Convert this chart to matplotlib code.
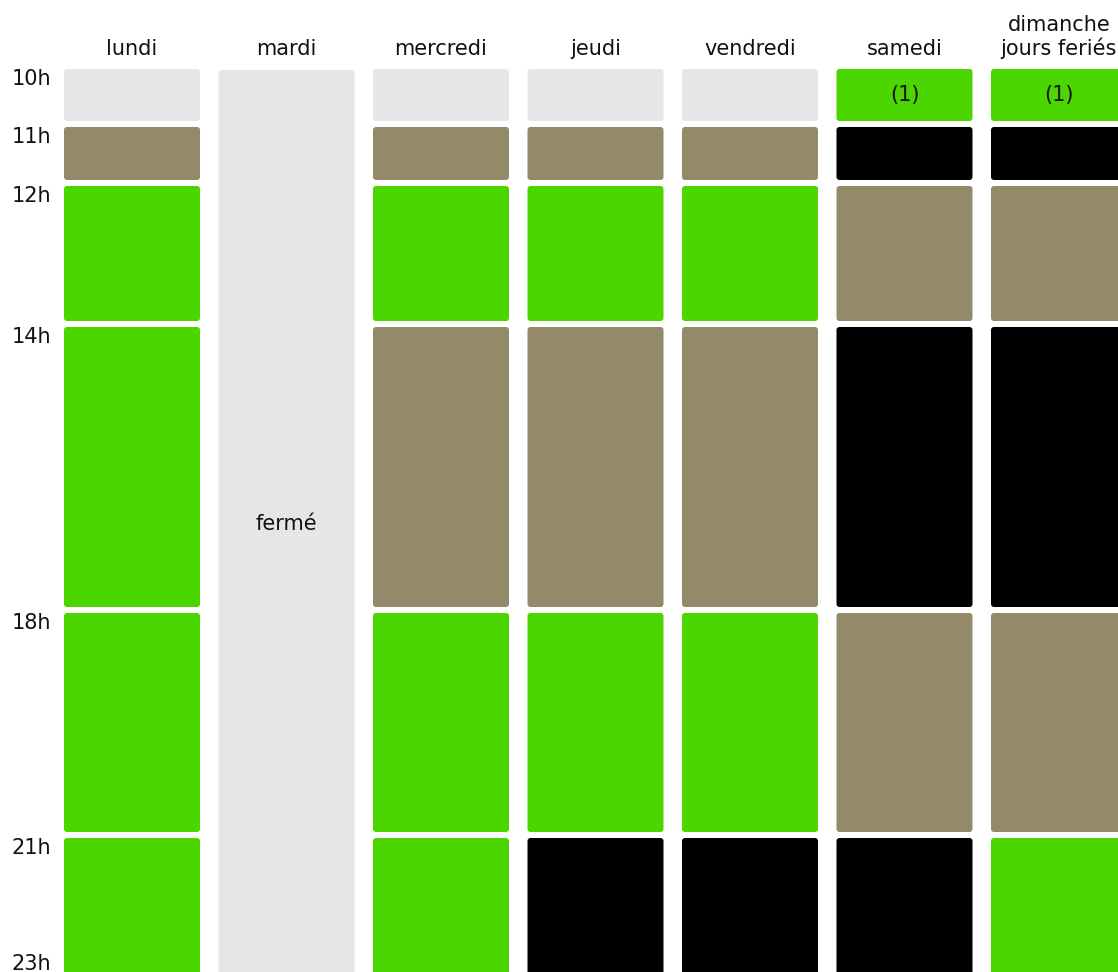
import matplotlib.pyplot as plt
from matplotlib.patches import FancyBboxPatch

days = ["lundi", "mardi", "mercredi", "jeudi", "vendredi", "samedi", "dimanche\njours feriés"]
hours = ["10h", "11h", "12h", "14h", "18h", "21h", "23h"]

# one letter per slot (10-11, 11-12, 12-14, 14-18, 18-21, 21-23)
# e = empty, b = brown, g = green, n = black ; "" = closed all day
lundi    = "ebgggg"
mardi    = ""
mercredi = "ebgbgg"
jeudi    = "ebgbgn"
vendredi = "ebgbgn"
samedi   = "gnbnbn"
dimanche = "gnbnbg"
schedule = [lundi, mardi, mercredi, jeudi, vendredi, samedi, dimanche]

notes = ["", "", "", "", "", "(1)", "(1)"]   # text in first slot
closed_text = "fermé"

colors = {"e": "#e6e6e6", "b": "#948a6a", "g": "#4cd600", "n": "#000000"}

# layout (pixels)
W, H = 1118, 972
x0, col_step, col_w = 64, 154.5, 136
y0, gap = 69, 6
slot_h = [58, 59, 141, 286, 225, 160]

fig = plt.figure(figsize=(W / 100, H / 100), dpi=100)
ax = fig.add_axes([0, 0, 1, 1])
ax.set_xlim(0, W)
ax.set_ylim(H, 0)
ax.axis("off")

tops = [y0]
for h in slot_h:
    tops.append(tops[-1] + h)

def box(x, y, w, h, c):
    ax.add_patch(FancyBboxPatch((x, y), w, h, boxstyle="round,pad=0,rounding_size=3",
                                fc=c, ec="none"))

for i, (day, slots) in enumerate(zip(days, schedule)):
    x = x0 + i * col_step
    ax.text(x + col_w / 2, 55, day, ha="center", va="baseline", fontsize=15,
            color="#111111", linespacing=1.15)
    if slots == "":
        box(x, y0 + 1, col_w, tops[-1] - y0, colors["e"])
        ax.text(x + col_w / 2, (y0 + H) / 2 + 3, closed_text, ha="center", va="center",
                fontsize=15, color="#111111")
        continue
    for j, s in enumerate(slots):
        box(x, tops[j], col_w, slot_h[j] - gap, colors[s])
    if notes[i]:
        ax.text(x + col_w / 2, tops[0] + (slot_h[0] - gap) / 2, notes[i], ha="center",
                va="center", fontsize=15, color="#111111")

for j, lab in enumerate(hours[:-1]):
    ax.text(31, tops[j] + 10, lab, ha="center", va="center", fontsize=15, color="#111111")
ax.text(31, 964, hours[-1], ha="center", va="center", fontsize=15, color="#111111")

fig.savefig("out.png", dpi=100)
